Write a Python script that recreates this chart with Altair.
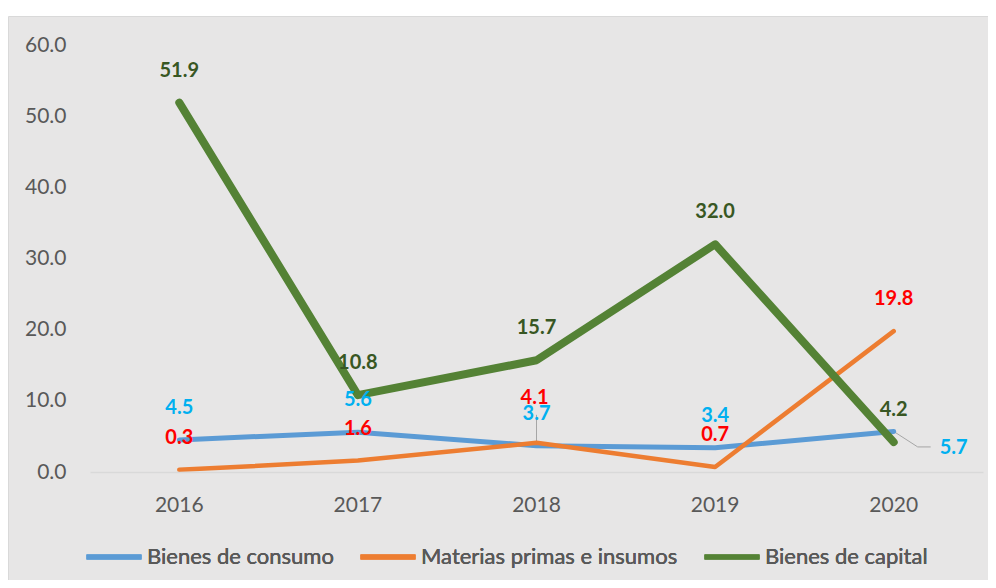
import altair as alt
import pandas as pd

years = ["2016", "2017", "2018", "2019", "2020"]
series = ["Bienes de consumo", "Materias primas e insumos", "Bienes de capital"]
consumo = [4.5, 5.6, 3.7, 3.4, 5.7]
materias = [0.3, 1.6, 4.1, 0.7, 19.8]
capital = [51.9, 10.8, 15.7, 32.0, 4.2]

line_colors = ["#5B9BD5", "#ED7D31", "#548235"]
label_colors = ["#00B0F0", "#FF0000", "#385723"]
line_widths = [5, 4.5, 8]

rows = []
for name, vals in zip(series, [consumo, materias, capital]):
    for y, v in zip(years, vals):
        rows.append({"year": y, "series": name, "value": v, "label": f"{v:.1f}"})
df = pd.DataFrame(rows)

W, H = 893, 427
PL, PT, PR, PB = 82, 37, 5, 108
FONT = "Lato"

bg = alt.Chart(pd.DataFrame({"a": [0]})).mark_rect(
    fill="#E7E6E6", stroke="#D9D9D9", strokeWidth=1
).encode(
    x=alt.value(-PL + 0.5), x2=alt.value(W + PR + 5),
    y=alt.value(-PT + 8.5), y2=alt.value(H + PB + 5)
)

xenc = alt.X("year:O", title=None, scale=alt.Scale(domain=years),
             axis=alt.Axis(labelAngle=0, labelAlign="center", labelBaseline="top",
                           labelFont=FONT, labelFontSize=21,
                           labelColor="#595959", labelPadding=22, ticks=False,
                           domain=True, domainColor="#D9D9D9", domainWidth=1.5,
                           grid=False, zindex=1))
yenc = alt.Y("value:Q", title=None, scale=alt.Scale(domain=[0, 60], nice=False),
             axis=alt.Axis(values=[0, 10, 20, 30, 40, 50, 60], format=".1f",
                           labelFont=FONT, labelFontSize=21, labelColor="#595959",
                           labelPadding=24, ticks=False, domain=False, grid=False,
                           zindex=1))
x2enc = alt.X2("year:O")
y2enc = alt.Y2("value:Q")

color_enc = alt.Color(
    "series:N", scale=alt.Scale(domain=series, range=line_colors),
    legend=alt.Legend(title=None, orient="none", legendX=-6, legendY=482,
                      direction="horizontal", symbolType="stroke",
                      symbolSize=3025, symbolStrokeWidth=5,
                      labelFont=FONT, labelFontSize=22, labelLimit=500,
                      labelColor="#595959", labelOffset=3, columnPadding=16))


def line_layer(name, width):
    return alt.Chart(df).transform_filter(
        alt.datum.series == name
    ).mark_line(strokeCap="round", strokeJoin="round", strokeWidth=width).encode(
        x=xenc, y=yenc, color=color_enc, order=alt.Order("year:O"))


lines = [line_layer(n, w) for n, w in zip(series, line_widths)]

leader1 = alt.Chart(df).transform_filter(
    "datum.series == 'Materias primas e insumos' && datum.year == '2018'"
).mark_rule(color="#A6A6A6", strokeWidth=1, y2Offset=-28).encode(
    x=xenc, y=yenc, y2=y2enc)

leader2 = alt.Chart(df).transform_filter(
    "datum.series == 'Bienes de consumo' && datum.year == '2020'"
).mark_rule(color="#A6A6A6", strokeWidth=1, x2Offset=24, y2Offset=15.5).encode(
    x=xenc, y=yenc, x2=x2enc, y2=y2enc)

leader3 = alt.Chart(df).transform_filter(
    "datum.series == 'Bienes de consumo' && datum.year == '2020'"
).mark_rule(color="#A6A6A6", strokeWidth=1, xOffset=24, yOffset=15.5,
            x2Offset=37, y2Offset=15.5).encode(
    x=xenc, y=yenc, x2=x2enc, y2=y2enc)

tcolor = alt.Color("series:N", scale=alt.Scale(domain=series, range=label_colors), legend=None)

is_special = ("(datum.series == 'Materias primas e insumos' && datum.year == '2018') || "
              "(datum.series == 'Bienes de consumo' && datum.year == '2020')")

labels_main = alt.Chart(df).transform_filter("!(" + is_special + ")").mark_text(
    font=FONT, fontSize=20, fontWeight="bold", dy=-32, baseline="middle"
).encode(x=xenc, y=yenc, text="label:N", color=tcolor)

labels_41 = alt.Chart(df).transform_filter(
    "datum.series == 'Materias primas e insumos' && datum.year == '2018'"
).mark_text(font=FONT, fontSize=20, fontWeight="bold", dy=-45, dx=-2, baseline="middle"
).encode(x=xenc, y=yenc, text="label:N", color=tcolor)

labels_57 = alt.Chart(df).transform_filter(
    "datum.series == 'Bienes de consumo' && datum.year == '2020'"
).mark_text(font=FONT, fontSize=20, fontWeight="bold", dy=17, dx=60, baseline="middle"
).encode(x=xenc, y=yenc, text="label:N", color=tcolor)

chart = alt.layer(
    bg, leader1, leader2, leader3, *lines, labels_main, labels_41, labels_57
).resolve_scale(color="independent").properties(
    width=W, height=H,
    padding={"left": PL, "top": PT, "right": PR, "bottom": PB},
    autosize=alt.AutoSizeParams(type="none"),
    background="white",
).configure_view(stroke=None)

chart.save("out.html", embed_options={"renderer": "svg", "actions": False})
